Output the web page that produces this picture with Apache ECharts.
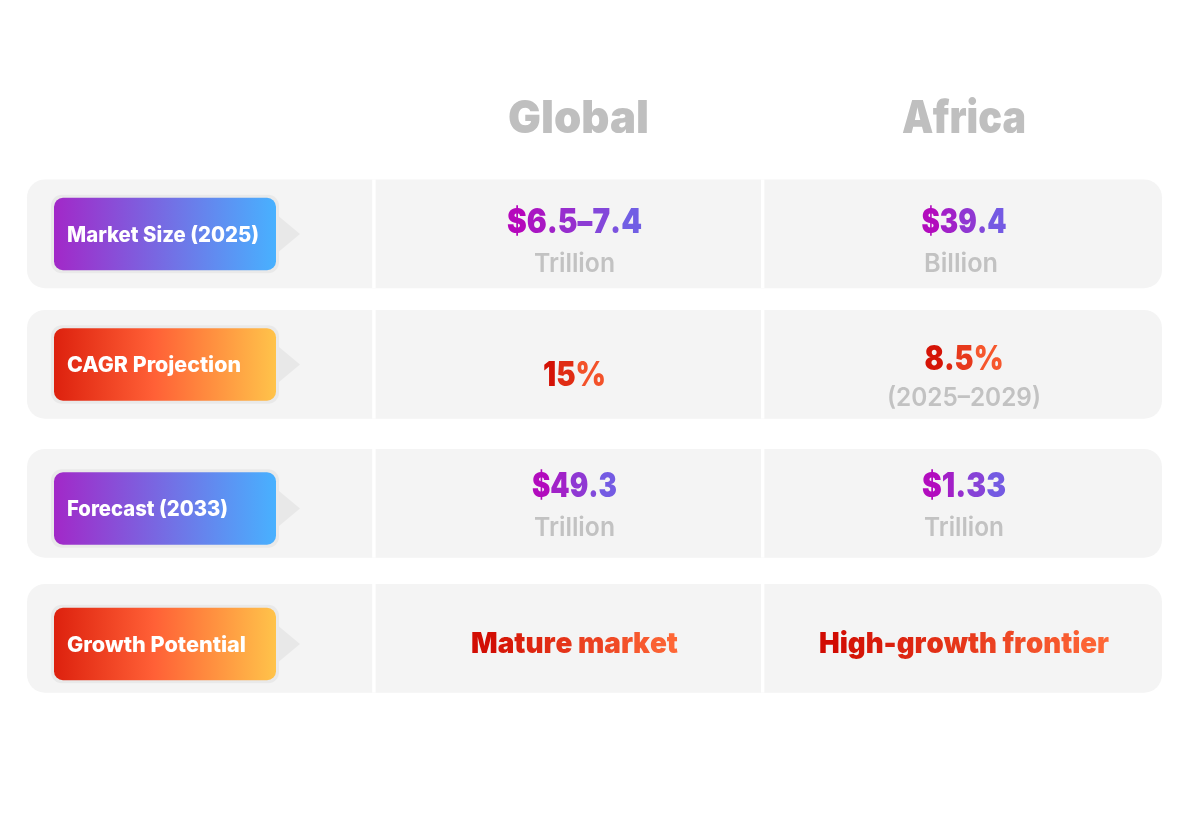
<!DOCTYPE html>
<html>
<head>
<meta charset="utf-8">
<style>html,body{margin:0;padding:0;background:#fff}#c{width:1200px;height:815px}</style>
<script src="https://cdn.jsdelivr.net/npm/echarts@6/dist/echarts.min.js"></script>
</head>
<body>
<div id="c"></div>
<script>
// ---- data ----
const columns = ['Global', 'Africa'];
const categories = ['Market Size (2025)', 'CAGR Projection', 'Forecast (2033)', 'Growth Potential'];
const globalValues = ['$6.5–7.4', '15%', '$49.3', 'Mature market'];
const globalUnits = ['Trillion', '', 'Trillion', ''];
const africaValues = ['$39.4', '8.5%', '$1.33', 'High-growth frontier'];
const africaUnits = ['Billion', '(2025–2029)', 'Trillion', ''];
const schemes = ['cool', 'warm', 'cool', 'warm'];

// ---- layout ----
const FONT = 'Inter';
const rowTops = [179.5, 310, 449, 584];
const badgeCY = [234, 364.5, 508.5, 644];
const rowH = 108.7;
const panelL = 27, panelR = 1162;
const dividers = [372.2, 761];
const valueW = { g: [135, 63, 85, 207], a: [85, 79, 84, 290] };
const unitW = { g: [81, 0, 81, 0], a: [74, 154, 80, 0] };
const labelW = [192, 174, 161, 179];
const valueY = { g: [223, 376, 487, 644], a: [223, 360, 487, 644] };
const unitY = { g: [264, 0, 528, 0], a: [264, 398, 528, 0] };
const colX = { g: 574.5, a: 964 };
const unitX = { g: [574.5, 0, 574.5, 0], a: [961, 964, 964, 0] };
const badgeGrad = {
  cool: [[0, '#a228c8'], [1, '#48b1ff']],
  warm: [[0, '#dd210e'], [0.45, '#ff6036'], [1, '#ffc34a']]
};
const textGrad = { cool: [[187, 0, 184], [107, 102, 232]], warm: [[207, 8, 0], [255, 106, 56]] };

const mctx = document.createElement('canvas').getContext('2d');
function measure(text, font) { mctx.font = font; return mctx.measureText(text).width; }
function fitted(text, font, target, x, y, fill) {
  const w = measure(text, font);
  return { type: 'text', x: x, y: y, scaleX: target / w, silent: true,
    style: { text: text, font: font, fill: fill, align: 'center', verticalAlign: 'middle' } };
}
// Value text with a left-to-right colour ramp, one rich-text style per glyph.
function gradientText(text, size, target, x, y, stops) {
  const font = '900 ' + size + 'px ' + FONT;
  const chars = Array.from(text);
  const widths = chars.map(function (c) { return measure(c, font); });
  const total = widths.reduce(function (a, b) { return a + b; }, 0);
  const rich = {};
  let acc = 0, markup = '';
  chars.forEach(function (c, k) {
    const t = (acc + widths[k] / 2) / total;
    acc += widths[k];
    const col = 'rgb(' + stops[0].map(function (v, n) { return Math.round(v + (stops[1][n] - v) * t); }).join(',') + ')';
    rich['c' + k] = { fontFamily: FONT, fontWeight: 900, fontSize: size, fill: col };
    markup += '{c' + k + '|' + c + '}';
  });
  return { type: 'text', x: x, y: y, scaleX: target / total, silent: true,
    style: { text: markup, rich: rich, font: font, align: 'center', verticalAlign: 'middle' } };
}
function cell(key, i, values, units, children) {
  const size = (i === 3) ? 29 : 34;
  children.push(gradientText(values[i], size, valueW[key][i], colX[key], valueY[key][i], textGrad[schemes[i]]));
  if (units[i]) {
    children.push(fitted(units[i], '600 26px ' + FONT, unitW[key][i], unitX[key][i], unitY[key][i], '#c2c2c2'));
  }
}
function renderRow(params, api) {
  const i = api.value(0);
  const top = rowTops[i];
  const cy = badgeCY[i];
  const ch = [];
  ch.push({ type: 'rect', shape: { x: panelL, y: top, width: panelR - panelL, height: rowH, r: 18 }, style: { fill: '#f4f4f4' } });
  dividers.forEach(function (d) {
    ch.push({ type: 'rect', shape: { x: d, y: top, width: 3.4, height: rowH }, style: { fill: '#ffffff' } });
  });
  ch.push({ type: 'polygon', shape: { points: [[276, cy - 20], [300, cy], [276, cy + 20]] }, style: { fill: '#e8e8e8' } });
  ch.push({ type: 'rect', shape: { x: 51, y: cy - 39.2, width: 228, height: 78.4, r: 11 }, style: { fill: '#e9e9e9' } });
  ch.push({ type: 'rect', shape: { x: 54, y: cy - 36.2, width: 222, height: 72.4, r: 9 },
    style: { fill: { type: 'linear', x: 0, y: 0, x2: 1, y2: 0,
      colorStops: badgeGrad[schemes[i]].map(function (s) { return { offset: s[0], color: s[1] }; }) } } });
  const f = '800 21px ' + FONT;
  ch.push({ type: 'text', x: 67, y: cy + 1.5, scaleX: labelW[i] / measure(categories[i], f),
    style: { text: categories[i], font: f, fill: '#ffffff', align: 'left', verticalAlign: 'middle' } });
  cell('g', i, globalValues, globalUnits, ch);
  cell('a', i, africaValues, africaUnits, ch);
  return { type: 'group', children: ch };
}

const chart = echarts.init(document.getElementById('c'), null, { renderer: 'canvas' });
const hf = '900 45px ' + FONT;
const headerW = [141, 124], headerX = [578.5, 964];
chart.setOption({
  animation: false,
  backgroundColor: '#ffffff',
  graphic: columns.map(function (c, k) {
    return { type: 'text', x: headerX[k], y: 119, scaleX: headerW[k] / measure(c, hf), silent: true,
      style: { text: c, font: hf, fill: '#bfbfbf', align: 'center', verticalAlign: 'middle' } };
  }),
  series: [{
    type: 'custom',
    coordinateSystem: 'none',
    silent: true,
    data: categories.map(function (c, i) { return [i, c]; }),
    renderItem: renderRow
  }]
});
</script>
</body>
</html>
